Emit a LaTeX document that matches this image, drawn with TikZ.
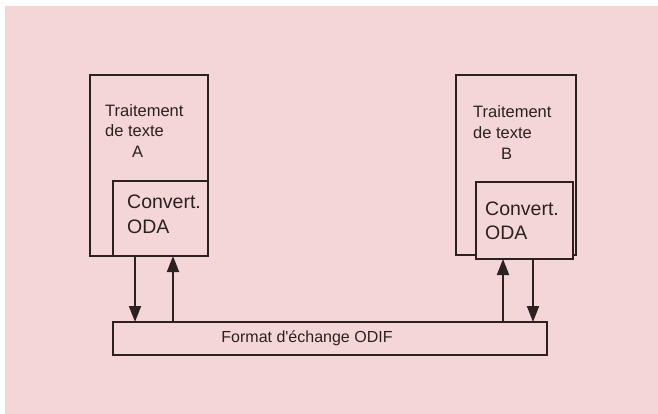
\documentclass[tikz,border=0pt]{standalone}
\usepackage{fontspec}
\setmainfont{Liberation Sans}
\usetikzlibrary{arrows.meta}
\definecolor{bgpink}{RGB}{244,214,214}
\definecolor{ink}{RGB}{45,32,32}
\begin{document}
\begin{tikzpicture}[x=1pt,y=-1pt,
  box/.style={draw=ink,line width=1.9pt},
  lbl/.style={anchor=base west,inner sep=0pt,text=ink},
  small/.style={lbl,font=\fontsize{16.5}{19}\selectfont},
  big/.style={lbl,font=\fontsize{19.5}{22}\selectfont},
  flow/.style={draw=ink,line width=1.9pt,-{Triangle[length=16pt,width=12pt]}}]
\useasboundingbox (0,0) rectangle (658,414);
\fill[white] (0,0) rectangle (658,414);
\fill[bgpink] (5,6) rectangle (658,414);
% left system
\draw[box] (90,75) rectangle (208,256);
\draw[box] (113,181) rectangle (208,256);
\node[small] (ta1) at (105,117) {Traitement};
\node[small] (ta2) at (105,137) {de texte};
\node[small] (ta3) at (132,158) {A};
\node[big] (ca1) at (127,208) {Convert.};
\node[big] (ca2) at (127,233) {ODA};
% right system
\draw[box] (456,75) rectangle (576,255);
\draw[fill=bgpink,box] (476,182) rectangle (573,259);
\node[small] (tb1) at (473,118) {Traitement};
\node[small] (tb2) at (473,139) {de texte};
\node[small] (tb3) at (501,160) {B};
\node[big] (cb1) at (485,215) {Convert.};
\node[big] (cb2) at (485,239) {ODA};
% exchange format
\draw[box] (113,322) rectangle (547,355);
\node[lbl,anchor=center,font=\fontsize{16}{19}\selectfont] (odif) at (307,338) {Format d\textquotesingle échange ODIF};
% arrows
\coordinate (a1s) at (135,256); \coordinate (a1e) at (135,322);
\coordinate (a2s) at (173,322); \coordinate (a2e) at (173,256);
\coordinate (b1s) at (503,322); \coordinate (b1e) at (503,259);
\coordinate (b2s) at (533,259); \coordinate (b2e) at (533,322);
\draw[flow] (a1s) -- (a1e);
\draw[flow] (a2s) -- (a2e);
\draw[flow] (b1s) -- (b1e);
\draw[flow] (b2s) -- (b2e);
\end{tikzpicture}
\end{document}
